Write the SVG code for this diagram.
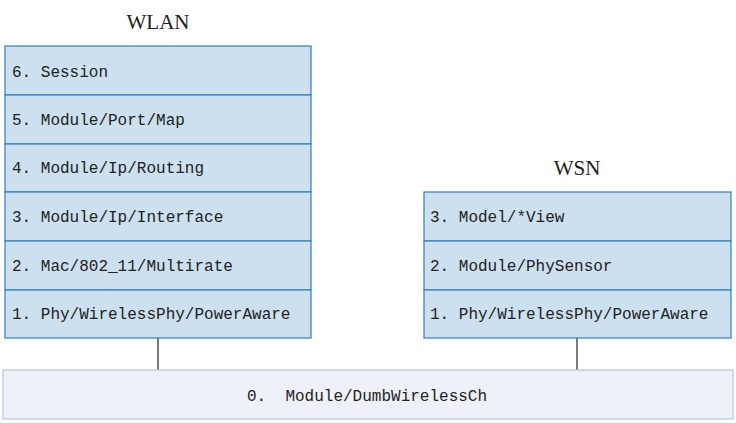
<svg xmlns="http://www.w3.org/2000/svg" width="736" height="423" viewBox="0 0 736 423">
<style>
.layer{fill:#cce0ef;stroke:#2f7fc1;stroke-width:1.2}
.base{fill:#eef1f7;stroke:#b9c5da;stroke-width:1.2}
.t{font-family:"Liberation Mono","DejaVu Sans Mono",monospace;font-size:16px;fill:#222}
.title{font-family:"Liberation Serif","DejaVu Serif",serif;font-size:21px;fill:#222;text-anchor:middle}
.conn{stroke:#222;stroke-width:1.2;fill:none}
</style>
<rect width="736" height="423" fill="#fff"/>
<g id="connectors">
<line class="conn" x1="158" y1="338" x2="158" y2="370"/>
<line class="conn" x1="577" y1="338" x2="577" y2="370"/>
</g>
<g id="wlan">
<text class="title" x="158" y="29">WLAN</text>
<rect class="layer" x="5" y="46" width="306" height="49"/>
<text class="t" x="12" y="77">6. Session</text>
<rect class="layer" x="5" y="95" width="306" height="49"/>
<text class="t" x="12" y="125">5. Module/Port/Map</text>
<rect class="layer" x="5" y="144" width="306" height="48"/>
<text class="t" x="12" y="173">4. Module/Ip/Routing</text>
<rect class="layer" x="5" y="192" width="306" height="49"/>
<text class="t" x="12" y="222">3. Module/Ip/Interface</text>
<rect class="layer" x="5" y="241" width="306" height="49"/>
<text class="t" x="12" y="271">2. Mac/802_11/Multirate</text>
<rect class="layer" x="5" y="290" width="306" height="48"/>
<text class="t" x="12" y="319">1. Phy/WirelessPhy/PowerAware</text>
</g>
<g id="wsn">
<text class="title" x="577" y="175">WSN</text>
<rect class="layer" x="424" y="192" width="307" height="49"/>
<text class="t" x="430" y="222">3. Model/*View</text>
<rect class="layer" x="424" y="241" width="307" height="49"/>
<text class="t" x="430" y="271">2. Module/PhySensor</text>
<rect class="layer" x="424" y="290" width="307" height="48"/>
<text class="t" x="430" y="319">1. Phy/WirelessPhy/PowerAware</text>
</g>
<g id="channel">
<rect class="base" x="3" y="370" width="730" height="49"/>
<text class="t" x="247" y="401" xml:space="preserve">0.  Module/DumbWirelessCh</text>
</g>
</svg>
